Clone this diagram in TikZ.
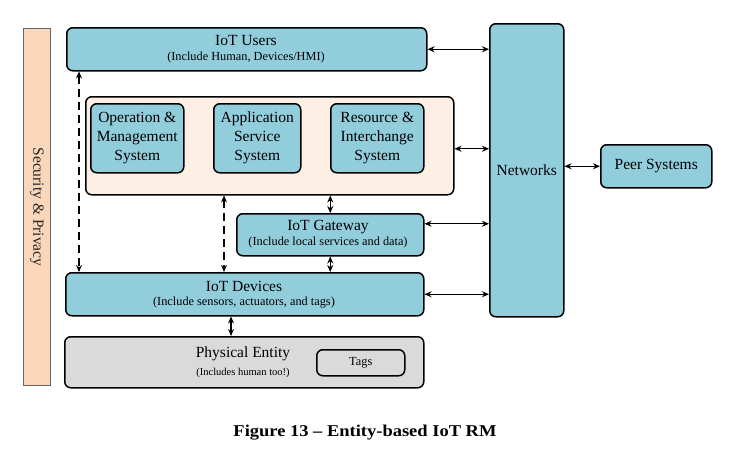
\documentclass[tikz,border=0pt]{standalone}
\usepackage{fontspec}
\setmainfont{Liberation Serif}
\usetikzlibrary{arrows.meta,calc}
\definecolor{iotblue}{RGB}{146,205,220}
\definecolor{pale}{RGB}{253,239,228}
\definecolor{secfill}{RGB}{250,214,186}
\definecolor{physgray}{RGB}{218,218,218}
\tikzset{
  box/.style={draw=black, line width=1.5pt, rounded corners=6pt, fill=iotblue, anchor=north west, inner sep=0pt},
  mtxt/.style={font=\fontsize{15.5}{19}\selectfont, inner sep=0pt, align=center},
  stxt/.style={font=\fontsize{12.3}{14}\selectfont, inner sep=0pt},
  dbl/.style={{Stealth[length=7pt,width=6pt]}-{Stealth[length=7pt,width=6pt]}, line width=1.4pt},
  dsh/.style={dbl, dash pattern=on 8pt off 5pt},
}
\begin{document}
\begin{tikzpicture}[x=1pt,y=-1pt]
\useasboundingbox (0,0) rectangle (745,453);
% security bar
\node[draw=black!60, line width=0.9pt, fill=secfill, anchor=north west, minimum width=27pt, minimum height=357pt, inner sep=0pt] (sec) at (23,28) {};
\node[rotate=-90, font=\fontsize{15.5}{19}\selectfont, text=black!85, inner sep=0pt] (secT) at (sec.center) {Security \& Privacy};
% IoT users
\node[box, minimum width=360pt, minimum height=43pt] (users) at (66,27) {};
\node[mtxt] (usersT) at (246,40) {IoT Users};
\node[stxt] (usersS) at (246,58) {(Include Human, Devices/HMI)};
% outer pale box
\node[box, fill=pale, minimum width=368pt, minimum height=98pt] (outer) at (85,96) {};
\node[box, minimum width=93pt, minimum height=69pt] (oms) at (90,103) {};
\node[mtxt] (omsT) at (oms.center) {Operation \&\\Management\\System};
\node[box, minimum width=87pt, minimum height=69pt] (ass) at (213,103) {};
\node[mtxt] (assT) at (ass.center) {Application\\Service\\System};
\node[box, minimum width=93pt, minimum height=69pt] (ris) at (330,103) {};
\node[mtxt] (risT) at (ris.center) {Resource \&\\Interchange\\System};
% gateway
\node[box, minimum width=187pt, minimum height=42pt] (gw) at (236,213) {};
\node[mtxt] (gwT) at (328,227) {IoT Gateway};
\node[stxt] (gwS) at (328,243) {(Include local services and data)};
% devices
\node[box, minimum width=358pt, minimum height=43pt] (dev) at (65,272) {};
\node[mtxt] (devT) at (244,286) {IoT Devices};
\node[stxt] (devS) at (244,303) {(Include sensors, actuators, and tags)};
% physical entity
\node[box, fill=physgray, minimum width=359pt, minimum height=51pt] (phys) at (64,336) {};
\node[mtxt] (physT) at (243,354) {Physical Entity};
\node[font=\fontsize{10.5}{12}\selectfont, inner sep=0pt] (physS) at (243,373) {(Includes human too!)};
\node[box, fill=physgray, minimum width=88pt, minimum height=26pt] (tags) at (316,349) {};
\node[stxt] (tagsT) at (tags.center) {Tags};
% networks
\node[box, minimum width=74pt, minimum height=293pt] (net) at (489,23) {};
\node[mtxt] (netT) at (net.center) {Networks};
% peer systems
\node[box, minimum width=111pt, minimum height=43pt] (peer) at (600,144) {};
\node[mtxt] (peerT) at (peer.center) {Peer Systems};
% connectors to networks
\coordinate (oe) at ([yshift=-3pt]outer.east);
\coordinate (ge) at ([yshift=11pt]gw.east);
\draw[dbl] (users.east) -- (net.west |- users.east);
\draw[dbl] (oe) -- (net.west |- oe);
\draw[dbl] (ge) -- (net.west |- ge);
\draw[dbl] (dev.east) -- (net.west |- dev.east);
\draw[dbl] (net.east |- peer.west) -- (peer.west);
% vertical connectors
\coordinate (lx) at ([xshift=13pt]users.south west);
\draw[dsh] (lx) -- (lx |- dev.north);
\coordinate (mx) at (224,0);
\draw[dsh] (mx |- outer.south) -- (mx |- dev.north);
\draw[dbl] (gw.north |- outer.south) -- (gw.north);
\draw[dbl] (gw.south) -- (gw.south |- dev.north);
\coordinate (px) at (231,0);
\draw[dbl] (px |- dev.south) -- (px |- phys.north);
% caption
\node[font=\bfseries\fontsize{16.5}{20}\selectfont, inner sep=0pt, xscale=1.12] (cap) at (365,433) {Figure 13 -- Entity-based IoT RM};
\end{tikzpicture}
\end{document}
